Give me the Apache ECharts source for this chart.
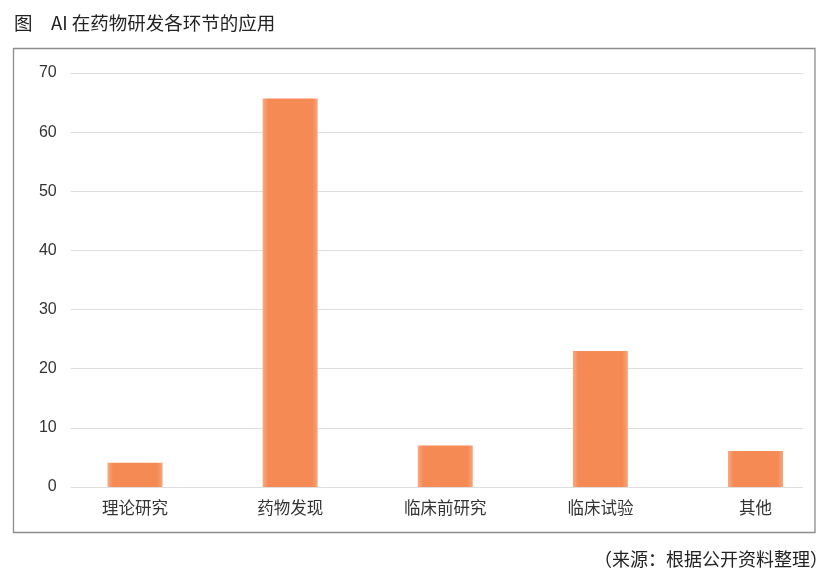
<!DOCTYPE html>
<html><head><meta charset="utf-8">
<script src="https://cdn.jsdelivr.net/npm/echarts@6/dist/echarts.min.js"></script>
<style>html,body{margin:0;padding:0;background:#fff}#c{width:828px;height:579px}</style>
</head><body><div id="c"></div>
<script>
const categories = ['理论研究', '药物发现', '临床前研究', '临床试验', '其他'];
const values = [4.1, 65.7, 7, 23, 6.1];
const yTicks = { min: 0, max: 70, interval: 10 };
const titleText = '图　AI 在药物研发各环节的应用';
const sourceText = '（来源：根据公开资料整理）';

const FONT = "'Liberation Sans', 'Noto Sans CJK SC', sans-serif";
const chart = echarts.init(document.getElementById('c'));
const barColor = new echarts.graphic.LinearGradient(0, 0, 1, 0, [
  { offset: 0, color: '#f7ab84' },
  { offset: 0.1, color: '#f58a55' },
  { offset: 0.9, color: '#f58a55' },
  { offset: 1, color: '#f7a47b' }
]);
chart.setOption({
  animation: false,
  backgroundColor: '#fff',
  graphic: [
    { type: 'rect', shape: { x: 13.5, y: 48.5, width: 801.5, height: 484 }, style: { fill: 'none', stroke: '#8c8c8c', lineWidth: 1.3 }, z: 0 },
    { type: 'text', left: 14, top: 13.5, style: { text: titleText, font: "18.5px 'Noto Sans CJK SC', sans-serif", fill: '#222' } },
    { type: 'text', right: 0, top: 550, style: { text: sourceText, font: "18px 'Noto Sans CJK SC', sans-serif", fill: '#222' } }
  ],
  grid: [
    { left: 135, right: 72.5, top: 73, height: 414, containLabel: false },
    { left: 70.7, width: 732.3, top: 73, height: 414, containLabel: false }
  ],
  xAxis: [
    {
      type: 'category', data: categories, gridIndex: 0, boundaryGap: false,
      axisLine: { show: false }, axisTick: { show: false }, splitLine: { show: false },
      axisLabel: { color: '#333', fontSize: 16.5, fontFamily: "'Noto Sans CJK SC', sans-serif", margin: 12 }
    },
    {
      type: 'value', gridIndex: 1, show: false, min: 0, max: 1, splitLine: { show: false }
    }
  ],
  yAxis: [
    {
      type: 'value', gridIndex: 0, min: yTicks.min, max: yTicks.max, interval: yTicks.interval,
      axisLabel: { show: false }, axisLine: { show: false }, axisTick: { show: false }, splitLine: { show: false }
    },
    {
      type: 'value', gridIndex: 1, min: yTicks.min, max: yTicks.max, interval: yTicks.interval,
      axisLine: { show: false }, axisTick: { show: false },
      axisLabel: { color: '#333', fontSize: 16, fontFamily: FONT, margin: 14 },
      splitLine: { show: true, lineStyle: { color: '#dedede', width: 1 } }
    }
  ],
  series: [
    {
      type: 'bar', data: values, xAxisIndex: 0, yAxisIndex: 0,
      barWidth: 55, itemStyle: { color: barColor }, z: 5
    }
  ]
});
</script></body></html>
